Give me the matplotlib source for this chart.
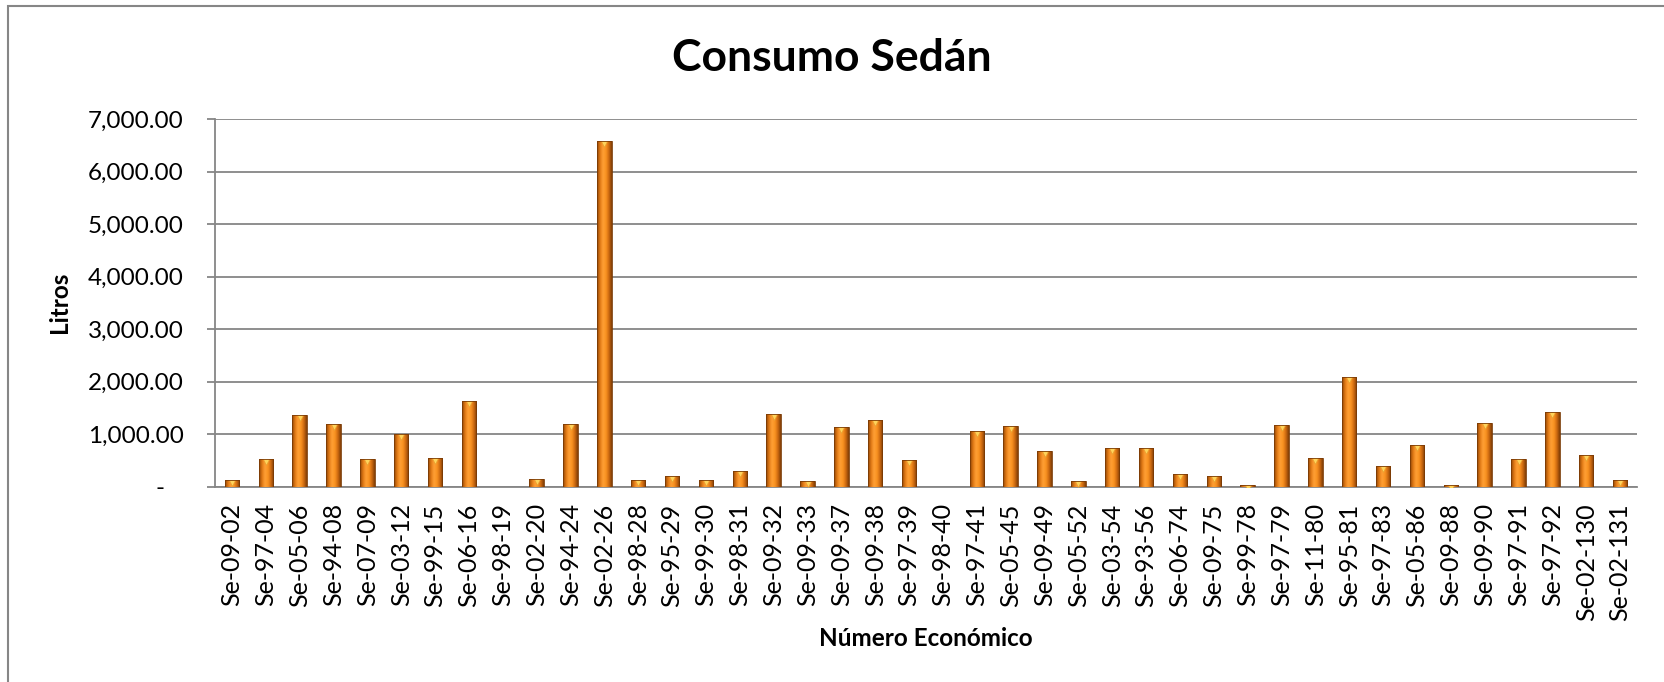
import numpy as np
import matplotlib
matplotlib.use("Agg")
import matplotlib.pyplot as plt
from matplotlib.colors import LinearSegmentedColormap
from matplotlib.patches import Rectangle
from matplotlib.ticker import FuncFormatter

plt.rcParams['font.family'] = ['Lato', 'DejaVu Sans']

# Datos
unidades = ['Se-09-02', 'Se-97-04', 'Se-05-06', 'Se-94-08', 'Se-07-09', 'Se-03-12',
            'Se-99-15', 'Se-06-16', 'Se-98-19', 'Se-02-20', 'Se-94-24', 'Se-02-26',
            'Se-98-28', 'Se-95-29', 'Se-99-30', 'Se-98-31', 'Se-09-32', 'Se-09-33',
            'Se-09-37', 'Se-09-38', 'Se-97-39', 'Se-98-40', 'Se-97-41', 'Se-05-45',
            'Se-09-49', 'Se-05-52', 'Se-03-54', 'Se-93-56', 'Se-06-74', 'Se-09-75',
            'Se-99-78', 'Se-97-79', 'Se-11-80', 'Se-95-81', 'Se-97-83', 'Se-05-86',
            'Se-09-88', 'Se-09-90', 'Se-97-91', 'Se-97-92', 'Se-02-130', 'Se-02-131']
litros = [120, 535, 1360, 1190, 535, 995,
          550, 1630, 0, 155, 1190, 6580,
          135, 195, 135, 305, 1385, 100,
          1140, 1270, 515, 0, 1065, 1160,
          685, 100, 740, 740, 250, 195,
          40, 1175, 550, 2090, 400, 800,
          35, 1215, 535, 1425, 610, 120]
y_ticks = [0, 1000, 2000, 3000, 4000, 5000, 6000, 7000]

W, H = 1664, 682
fig = plt.figure(figsize=(W/100, H/100), dpi=100)
ax = fig.add_axes([215/W, 1-486.7/H, (1637-215)/W, (486.7-119)/H])

# borde del área del gráfico
fig.patches.append(Rectangle((8/W, -0.1), 1.2, 1-6/H+0.1, transform=fig.transFigure,
                             fill=False, edgecolor='#868686', linewidth=1.5))

gris = '#868686'
x = np.arange(len(unidades))
barras = ax.bar(x, litros, width=0.43, color='#F28A20', edgecolor='#7A3A05',
                linewidth=0.6, zorder=3)

# degradado de cada barra
cmap = LinearSegmentedColormap.from_list('naranja', ['#8E4506', '#E07814', '#FFA035',
                                                      '#FA9322', '#CE6A10', '#7E3C06'])
grad = np.linspace(0, 1, 64).reshape(1, -1)
for b in barras:
    h = b.get_height()
    if h <= 0:
        continue
    x0 = b.get_x()
    im = ax.imshow(grad, cmap=cmap, aspect='auto', zorder=3.5,
                   extent=[x0, x0 + b.get_width(), 0, h], interpolation='bicubic')
    im.set_clip_path(b)
    tri, = ax.plot([b.get_x() + b.get_width()/2], [h], marker='v', markersize=9,
                   color='#FFD45C', markeredgecolor='#E8A030', markeredgewidth=0.5,
                   linestyle='none', zorder=4)
    tri.set_clip_path(b)
    b.set_zorder(5)
    b.set_facecolor('none')

ax.set_xlim(-0.5, len(unidades) - 0.5)
ax.set_ylim(0, 7000)
ax.set_yticks(y_ticks)
ax.yaxis.set_major_formatter(FuncFormatter(lambda v, p: '-   ' if v == 0 else '{:,.2f}'.format(v)))
ax.set_xticks(x)
ax.set_xticklabels(unidades, rotation=90)

ax.grid(axis='y', color=gris, linewidth=1.3, zorder=0)
ax.set_axisbelow(True)
for s in ['top', 'right']:
    ax.spines[s].set_visible(False)
for s in ['left', 'bottom']:
    ax.spines[s].set_color(gris)
    ax.spines[s].set_linewidth(1.3)
ax.tick_params(axis='y', length=6, width=1.3, color=gris, pad=16.5, labelsize=17.5)
ax.tick_params(axis='x', length=0, pad=12, labelsize=18)

fig.text(0.5, 1-58/H, 'Consumo Sedán', ha='center', va='center',
         fontsize=32, fontweight='bold')
fig.text(926/W, 1-638/H, 'Número Económico', ha='center', va='center',
         fontsize=17.5, fontweight='bold')
fig.text(60/W, 1-302/H, 'Litros', ha='center', va='center', rotation=90,
         fontsize=17.5, fontweight='bold')

fig.savefig('out.png', dpi=100)
